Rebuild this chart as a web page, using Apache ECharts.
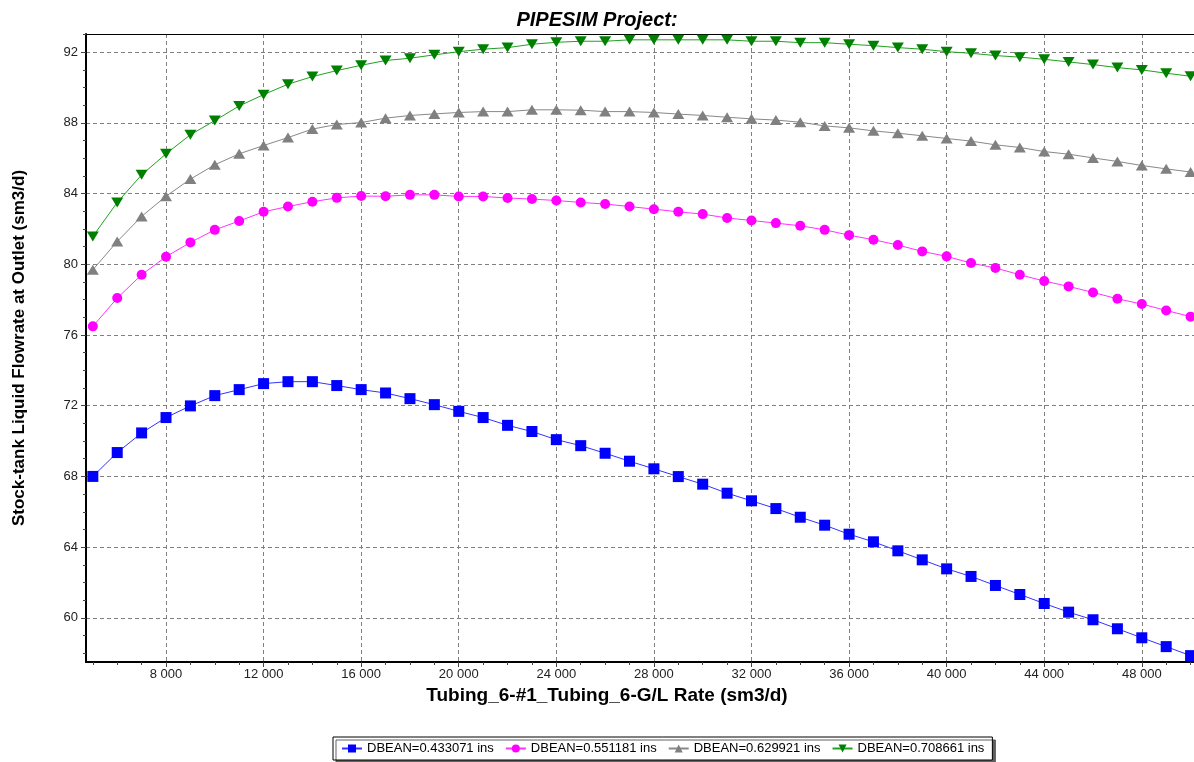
<!DOCTYPE html>
<html>
<head>
<meta charset="utf-8">
<title>PIPESIM Project</title>
<script src="https://cdn.jsdelivr.net/npm/echarts@6/dist/echarts.min.js"></script>
<style>
  html, body { margin: 0; padding: 0; background: #ffffff; }
  #chart { width: 1194px; height: 762px; }
</style>
</head>
<body>
<div id="chart"></div>
<script>
// Gas/liquid rate sensitivity (sm3/d)
const glRate = [5000, 6000, 7000, 8000, 9000, 10000, 11000, 12000, 13000, 14000,
  15000, 16000, 17000, 18000, 19000, 20000, 21000, 22000, 23000, 24000,
  25000, 26000, 27000, 28000, 29000, 30000, 31000, 32000, 33000, 34000,
  35000, 36000, 37000, 38000, 39000, 40000, 41000, 42000, 43000, 44000,
  45000, 46000, 47000, 48000, 49000, 50000];

// Stock-tank liquid flowrate at outlet (sm3/d) per choke bean size
const dbean0433071 = [68.00, 69.35, 70.46, 71.33, 71.99, 72.57, 72.91, 73.25, 73.36, 73.36,
  73.14, 72.91, 72.72, 72.40, 72.06, 71.68, 71.33, 70.89, 70.54, 70.08,
  69.74, 69.31, 68.86, 68.43, 67.99, 67.56, 67.05, 66.62, 66.18, 65.69,
  65.24, 64.73, 64.30, 63.79, 63.28, 62.77, 62.34, 61.83, 61.32, 60.81,
  60.32, 59.89, 59.38, 58.87, 58.37, 57.86];
const dbean0551181 = [76.49, 78.09, 79.41, 80.43, 81.24, 81.95, 82.45, 82.97, 83.27, 83.54,
  83.76, 83.86, 83.85, 83.93, 83.93, 83.84, 83.84, 83.75, 83.69, 83.61,
  83.50, 83.41, 83.27, 83.12, 82.97, 82.84, 82.62, 82.48, 82.33, 82.18,
  81.95, 81.65, 81.39, 81.09, 80.73, 80.45, 80.07, 79.79, 79.41, 79.05,
  78.75, 78.41, 78.05, 77.75, 77.39, 77.04];
const dbean0629921 = [79.69, 81.29, 82.71, 83.85, 84.82, 85.63, 86.25, 86.72, 87.17, 87.65,
  87.91, 88.02, 88.27, 88.42, 88.51, 88.59, 88.64, 88.64, 88.74, 88.74,
  88.72, 88.64, 88.64, 88.59, 88.50, 88.42, 88.32, 88.23, 88.16, 88.04,
  87.83, 87.72, 87.55, 87.42, 87.27, 87.12, 86.97, 86.76, 86.61, 86.38,
  86.23, 86.02, 85.82, 85.59, 85.40, 85.22];
const dbean0708661 = [81.58, 83.50, 85.06, 86.25, 87.33, 88.13, 88.96, 89.60, 90.19, 90.62,
  90.96, 91.26, 91.53, 91.66, 91.85, 92.03, 92.17, 92.26, 92.45, 92.56,
  92.62, 92.62, 92.70, 92.70, 92.70, 92.70, 92.70, 92.62, 92.62, 92.54,
  92.54, 92.45, 92.37, 92.26, 92.17, 92.03, 91.94, 91.81, 91.72, 91.60,
  91.45, 91.30, 91.13, 91.00, 90.81, 90.64];

const seriesNames = ['DBEAN=0.433071 ins', 'DBEAN=0.551181 ins', 'DBEAN=0.629921 ins', 'DBEAN=0.708661 ins'];

// Axis ticks
const xMajorTicks = [8000, 12000, 16000, 20000, 24000, 28000, 32000, 36000, 40000, 44000, 48000];
const xMinorTicks = [5000, 6000, 7000, 9000, 10000, 11000, 13000, 14000, 15000, 17000, 18000, 19000,
  21000, 22000, 23000, 25000, 26000, 27000, 29000, 30000, 31000, 33000, 34000, 35000,
  37000, 38000, 39000, 41000, 42000, 43000, 45000, 46000, 47000, 49000, 50000];
const yMajorTicks = [60, 64, 68, 72, 76, 80, 84, 88, 92];
const yMinorTicks = [58, 59, 61, 62, 63, 65, 66, 67, 69, 70, 71, 73, 74, 75, 77, 78, 79,
  81, 82, 83, 85, 86, 87, 89, 90, 91, 93];

const X_MIN = 4720, X_MAX = 50140;
const Y_MIN = 57.5, Y_MAX = 93.03;
const FONT = '"Liberation Sans", Arial, sans-serif';

function pairs(values) {
  return glRate.map((x, i) => [x, values[i]]);
}
function thousands(v) {
  return String(v).replace(/\B(?=(\d{3})+(?!\d))/g, ' ');
}

const chart = echarts.init(document.getElementById('chart'), null, { renderer: 'canvas' });

const gridDash = { color: '#808080', width: 1, type: [4, 3] };

chart.setOption({
  backgroundColor: '#ffffff',
  animation: false,
  textStyle: { fontFamily: FONT },
  title: {
    text: 'PIPESIM Project:',
    left: 'center',
    top: 5,
    textStyle: { fontFamily: FONT, fontSize: 20, fontWeight: 'bold', fontStyle: 'italic', color: '#000' }
  },
  grid: { left: 86, right: 0, top: 34, bottom: 100, containLabel: false },
  legend: {
    left: 333,
    top: 737,
    padding: [5, 8],
    itemGap: 11,
    itemWidth: 20,
    itemHeight: 10,
    borderColor: '#000',
    borderWidth: 1,
    backgroundColor: '#fff',
    shadowColor: 'rgba(80,80,80,0.9)',
    shadowOffsetX: 3,
    shadowOffsetY: 3,
    shadowBlur: 0,
    textStyle: { fontFamily: FONT, fontSize: 13, color: '#000' },
    data: seriesNames
  },
  xAxis: [
    {
      type: 'value', position: 'bottom', min: X_MIN, max: X_MAX,
      name: 'Tubing_6-#1_Tubing_6-G/L Rate (sm3/d)',
      nameLocation: 'middle', nameGap: 17,
      nameTextStyle: { fontFamily: FONT, fontSize: 19, fontWeight: 'bold', color: '#000', padding: [0, 66, 0, 0] },
      axisLine: { onZero: false, lineStyle: { color: '#000', width: 2 } },
      axisTick: { customValues: xMajorTicks, length: 5, lineStyle: { color: '#444' } },
      axisLabel: { customValues: xMajorTicks, formatter: thousands, fontSize: 13, color: '#222', margin: 6 },
      splitLine: { show: true, lineStyle: gridDash }
    },
    {
      type: 'value', position: 'bottom', min: X_MIN, max: X_MAX,
      axisLine: { show: false, onZero: false },
      axisTick: { customValues: xMinorTicks, length: 3, lineStyle: { color: '#444' } },
      axisLabel: { show: false },
      splitLine: { show: false }
    },
    {
      type: 'value', position: 'top', min: X_MIN, max: X_MAX,
      axisLine: { show: true, onZero: false, lineStyle: { color: '#000', width: 1 } },
      axisTick: { show: false },
      axisLabel: { show: false },
      splitLine: { show: false }
    }
  ],
  yAxis: [
    {
      type: 'value', position: 'left', min: Y_MIN, max: Y_MAX,
      name: 'Stock-tank Liquid Flowrate at Outlet (sm3/d)',
      nameLocation: 'middle', nameGap: 58, nameRotate: 90,
      nameTextStyle: { fontFamily: FONT, fontSize: 17, fontWeight: 'bold', color: '#000' },
      axisLine: { onZero: false, lineStyle: { color: '#000', width: 2 } },
      axisTick: { customValues: yMajorTicks, length: 5, lineStyle: { color: '#444' } },
      axisLabel: { customValues: yMajorTicks, fontSize: 13, color: '#222', margin: 8 },
      splitLine: { show: true, lineStyle: gridDash }
    },
    {
      type: 'value', position: 'left', min: Y_MIN, max: Y_MAX,
      axisLine: { show: false, onZero: false },
      axisTick: { customValues: yMinorTicks, length: 3, lineStyle: { color: '#444' } },
      axisLabel: { show: false },
      splitLine: { show: false }
    }
  ],
  series: [
    {
      name: seriesNames[0], type: 'line', xAxisIndex: 0, yAxisIndex: 0,
      data: pairs(dbean0433071),
      symbol: 'rect', symbolSize: 11,
      itemStyle: { color: '#0000ff' },
      lineStyle: { color: '#3333ff', width: 1 }
    },
    {
      name: seriesNames[1], type: 'line', xAxisIndex: 0, yAxisIndex: 0,
      data: pairs(dbean0551181),
      symbol: 'circle', symbolSize: 10,
      itemStyle: { color: '#ff00ff' },
      lineStyle: { color: '#ff33ff', width: 1 }
    },
    {
      name: seriesNames[2], type: 'line', xAxisIndex: 0, yAxisIndex: 0,
      data: pairs(dbean0629921),
      symbol: 'triangle', symbolSize: [12, 10],
      itemStyle: { color: '#808080' },
      lineStyle: { color: '#888888', width: 1 }
    },
    {
      name: seriesNames[3], type: 'line', xAxisIndex: 0, yAxisIndex: 0,
      data: pairs(dbean0708661),
      symbol: 'path://M0,0 L12,0 L6,10 Z', symbolSize: [12, 10],
      itemStyle: { color: '#008000' },
      lineStyle: { color: '#22a022', width: 1 }
    }
  ]
});
</script>
</body>
</html>
